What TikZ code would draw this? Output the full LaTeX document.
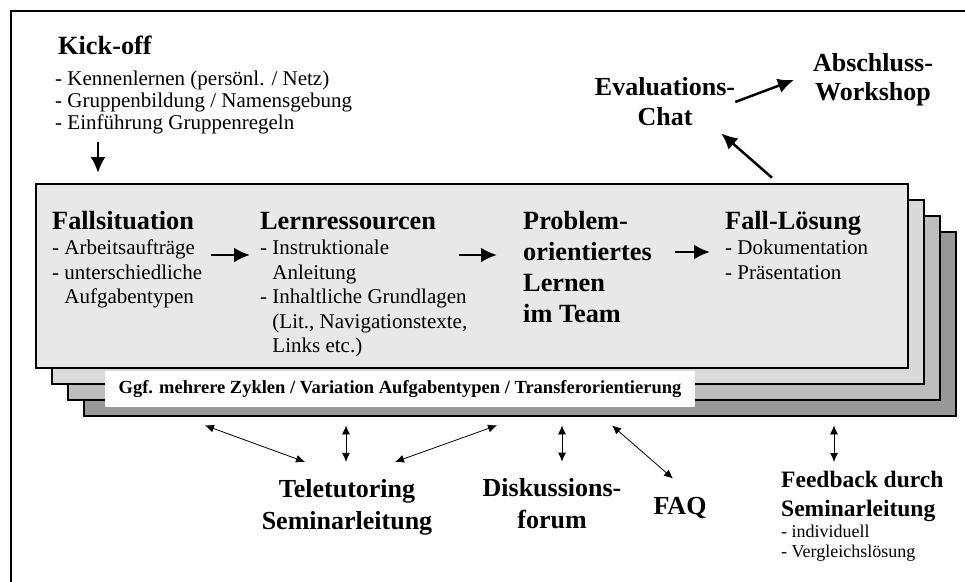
\documentclass[tikz,border=0pt]{standalone}
\usepackage{fontspec}
\setmainfont{Liberation Serif}
\usetikzlibrary{positioning,arrows.meta}
\definecolor{sheet}{HTML}{E8E8E8}
\definecolor{sheetb}{HTML}{D9D9D9}
\definecolor{sheetc}{HTML}{BEBEBE}
\definecolor{sheetd}{HTML}{989898}

\begin{document}
\begin{tikzpicture}[x=1pt, y=-1pt,
  sheet/.style={draw=black, line width=2.4pt, anchor=north west, inner sep=0pt,
                minimum width=872pt, minimum height=184pt},
  head/.style={font=\fontsize{26.3}{31}\selectfont\bfseries, inner sep=0pt, align=left},
  item/.style={font=\fontsize{21}{24.5}\selectfont, inner sep=0pt, align=left, anchor=north west},
  tool/.style={font=\fontsize{26}{32}\selectfont\bfseries, inner sep=0pt, align=center},
  arrow/.style={-{Latex[length=16pt,width=15pt]}, line width=2.8pt},
  link/.style={{Latex[length=9pt,width=8pt]}-{Latex[length=9pt,width=8pt]}, line width=0.8pt}
]
\useasboundingbox (0,0) rectangle (965,581);
\draw[line width=2pt] (11,11) rectangle (995,610);

% kick-off
\node[head, anchor=base west] (kick) at (58,54) {Kick-off};
\node[item, font=\fontsize{21}{22}\selectfont, below=16pt of kick.south west, anchor=north west, xshift=-3pt] (kickList)
  {- Kennenlernen (persönl. / Netz)\\- Gruppenbildung / Namensgebung\\- Einführung Gruppenregeln};

% stacked cycles
\node[sheet, fill=sheetd] (stack4) at (83,231) {};
\node[sheet, fill=sheetc] (stack3) at (67,215) {};
\node[sheet, fill=sheetb] (stack2) at (51,199) {};
\node[sheet, fill=sheet] (case) at (35,183) {};
\node[fill=white, minimum width=590pt, minimum height=36pt, inner sep=0pt,
      font=\fontsize{18.5}{20}\selectfont\bfseries] (cycles) at (400,389)
  {Ggf. mehrere Zyklen / Variation Aufgabentypen / Transferorientierung};

\node[head, anchor=base west] (fall) at (52,229) {Fallsituation};
\node[item] (fallList) at (52,240)
  {- Arbeitsaufträge\\- unterschiedliche\\\phantom{- }Aufgabentypen};
\node[head, anchor=base west] (lern) at (260,229) {Lernressourcen};
\node[item] (lernList) at (260,240)
  {- Instruktionale\\\phantom{- }Anleitung\\- Inhaltliche Grundlagen\\\phantom{- }(Lit., Navigationstexte,\\\phantom{- }Links etc.)};
\node[head, anchor=north west] (problem) at (523,211)
  {Problem-\\orientiertes\\Lernen\\im Team};
\node[head, anchor=base west] (sol) at (725,229) {Fall-Lösung};
\node[item] (solList) at (725,240) {- Dokumentation\\- Präsentation};

\coordinate (row1) at (0,255);
\coordinate (row3) at (0,252);
\coordinate (kickx) at (98,0);
\coordinate (evalx) at (778,0);

% top right
\node[tool, font=\fontsize{26}{30}\selectfont\bfseries] (chat) at (665,102) {Evaluations-\\Chat};
\node[tool, font=\fontsize{26}{29}\selectfont\bfseries] (workshop) at (873,80) {Abschluss-\\Workshop};

% bottom
\node[tool] (tele) at (347,507) {Teletutoring\\Seminarleitung};
\node[tool] (disk) at (552,504) {Diskussions-\\forum};
\node[tool, anchor=base] (faq) at (680,514) {FAQ};
\node[head, font=\fontsize{23.5}{29}\selectfont\bfseries, anchor=north west] (fb) at (781,471)
  {Feedback durch\\Seminarleitung};
\node[item, font=\fontsize{18}{20}\selectfont] (fbList) at (781,525) {- individuell\\- Vergleichslösung};

% flow
\draw[arrow, shorten <=8pt, shorten >=10pt] (kickList.south -| kickx) -- (case.north -| kickx);
\draw[arrow, shorten <=17pt, shorten >=10pt] (fall.east |- row1) -- (lern.west |- row1);
\draw[arrow, shorten <=23pt, shorten >=26pt] (lern.east |- row1) -- (problem.west |- row1);
\draw[arrow, shorten <=23pt, shorten >=15pt] (problem.east |- row3) -- (sol.west |- row3);
\draw[arrow, line width=2.5pt, shorten <=8pt] (case.north -| evalx) -- ([shift={(-14,7)}]chat.south east);
\draw[arrow, line width=2.5pt] (chat.east) -- ([xshift=-19pt]workshop.west);

% support
\draw[link] ([shift={(122,8)}]stack4.south west) -- ([shift={(-42,-17)}]tele.north);
\draw[link] ([shift={(263,8)}]stack4.south west) -- ([shift={(-1,-17)}]tele.north);
\draw[link] ([shift={(414,8)}]stack4.south west) -- ([shift={(48,-17)}]tele.north);
\draw[link] ([shift={(479,8)}]stack4.south west) -- ([shift={(10,-17)}]disk.north);
\draw[link] ([shift={(529,8)}]stack4.south west) -- ([shift={(-7,-18)}]faq.north);
\draw[link] ([shift={(751,8)}]stack4.south west) -- ([shift={(53,-9)}]fb.north west);
\end{tikzpicture}
\end{document}
